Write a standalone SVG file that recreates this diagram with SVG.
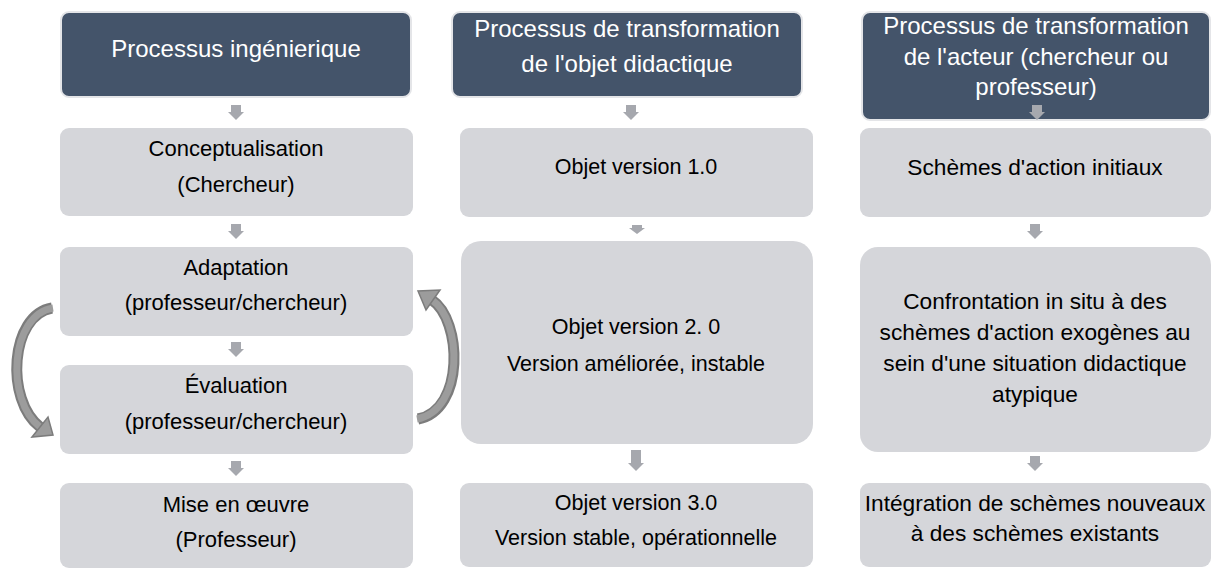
<svg xmlns="http://www.w3.org/2000/svg" width="1211" height="569" viewBox="0 0 1211 569">
<style>
.hdr{fill:#44546A;stroke:#E4E5E8;stroke-width:2}
.box{fill:#D5D6DA}
.ht{font-family:"Liberation Sans",Arial,sans-serif;font-size:24px;fill:#FFFFFF;text-anchor:middle}
.bt{font-family:"Liberation Sans",Arial,sans-serif;font-size:22px;fill:#000000;text-anchor:middle}
.c2{font-size:21.5px}
.c3{font-size:22.7px}
.sa{fill:#A6A8AE}
.arcO{fill:none;stroke:#7C7C7C;stroke-width:11}
.arcI{fill:none;stroke:#9C9C9C;stroke-width:7}
.head{fill:#9C9C9C;stroke:#7C7C7C;stroke-width:1.5;stroke-linejoin:miter}
</style>
<defs>
<path id="sarrow" d="M -5 0 h10 v7 h3 l-8 8 l-8 -8 h3 z"/>
</defs>
<rect width="1211" height="569" fill="#FFFFFF"/>

<g id="col1-header"><rect class="hdr" x="61" y="12" width="350" height="85" rx="8"/><text class="ht" x="236" y="57">Processus ingénierique</text></g>
<g id="col1-conceptualisation"><rect class="box" x="60" y="128" width="353" height="88" rx="9"/><text class="bt" x="236" y="156">Conceptualisation</text><text class="bt" x="236" y="192">(Chercheur)</text></g>
<g id="col1-adaptation"><rect class="box" x="60" y="247" width="353" height="89" rx="9"/><text class="bt" x="236" y="275">Adaptation</text><text class="bt" x="236" y="310">(professeur/chercheur)</text></g>
<g id="col1-evaluation"><rect class="box" x="60" y="365" width="353" height="89" rx="9"/><text class="bt" x="236" y="393">Évaluation</text><text class="bt" x="236" y="429">(professeur/chercheur)</text></g>
<g id="col1-mise"><rect class="box" x="60" y="483" width="353" height="85" rx="9"/><text class="bt" x="236" y="512">Mise en œuvre</text><text class="bt" x="236" y="547">(Professeur)</text></g>

<g id="col2-header"><rect class="hdr" x="452" y="12" width="350" height="85" rx="8"/><text class="ht" x="627" y="37">Processus de transformation</text><text class="ht" x="627" y="72">de l'objet didactique</text></g>
<g id="col2-v1"><rect class="box" x="460" y="128" width="353" height="89" rx="9"/><text class="bt c2" x="636" y="174">Objet version 1.0</text></g>
<g id="col2-v2"><rect class="box" x="461" y="241" width="352" height="203" rx="20"/><text class="bt c2" x="636" y="334">Objet version 2. 0</text><text class="bt c2" x="636" y="371">Version améliorée, instable</text></g>
<g id="col2-v3"><rect class="box" x="460" y="483" width="353" height="84" rx="9"/><text class="bt c2" x="636" y="510">Objet version 3.0</text><text class="bt c2" x="636" y="545">Version stable, opérationnelle</text></g>

<g id="col3-header"><rect class="hdr" x="862" y="12" width="348" height="108" rx="8"/><text class="ht" x="1036" y="34">Processus de transformation</text><text class="ht" x="1036" y="65">de l'acteur (chercheur ou</text><text class="ht" x="1036" y="95">professeur)</text></g>
<g id="col3-initiaux"><rect class="box" x="860" y="128" width="351" height="89" rx="9"/><text class="bt c3" x="1035" y="175">Schèmes d'action initiaux</text></g>
<g id="col3-confrontation"><rect class="box" x="860" y="247" width="351" height="205" rx="18"/><text class="bt c3" x="1035" y="309">Confrontation in situ à  des</text><text class="bt c3" x="1035" y="340">schèmes d'action exogènes au</text><text class="bt c3" x="1035" y="371">sein d'une situation didactique</text><text class="bt c3" x="1035" y="402">atypique</text></g>
<g id="col3-integration"><rect class="box" x="860" y="483" width="351" height="84" rx="9"/><text class="bt c3" x="1035" y="511">Intégration de schèmes nouveaux</text><text class="bt c3" x="1035" y="541">à des schèmes existants</text></g>

<g id="connectors">
<use href="#sarrow" class="sa" transform="translate(236,105)"/>
<use href="#sarrow" class="sa" transform="translate(236,224)"/>
<use href="#sarrow" class="sa" transform="translate(236,342)"/>
<use href="#sarrow" class="sa" transform="translate(236,461)"/>
<use href="#sarrow" class="sa" transform="translate(631,105)"/>
<path class="sa" d="M 632 225 h10 v3 h3 l-8 6 l-8 -6 h3 z"/>
<path class="sa" d="M 631 450 h10 v13 h3 l-8 8 l-8 -8 h3 z"/>
<use href="#sarrow" class="sa" transform="translate(1037,105)"/>
<use href="#sarrow" class="sa" transform="translate(1035,224)"/>
<use href="#sarrow" class="sa" transform="translate(1035,456)"/>
<g id="loop-left">
<path class="arcO" d="M 52 308 C 10 315, 5 400, 40 427"/>
<path class="arcI" d="M 53 308 C 10 315, 5 400, 40 427"/>
<polygon class="head" points="32,437 48,417 53,435"/>
</g>
<g id="loop-right">
<path class="arcO" d="M 418 419 C 465 410, 462 320, 432 300"/>
<path class="arcI" d="M 417 419 C 465 410, 462 320, 432 300"/>
<polygon class="head" points="440,290 426,310 418,291"/>
</g>
</g>
</svg>
